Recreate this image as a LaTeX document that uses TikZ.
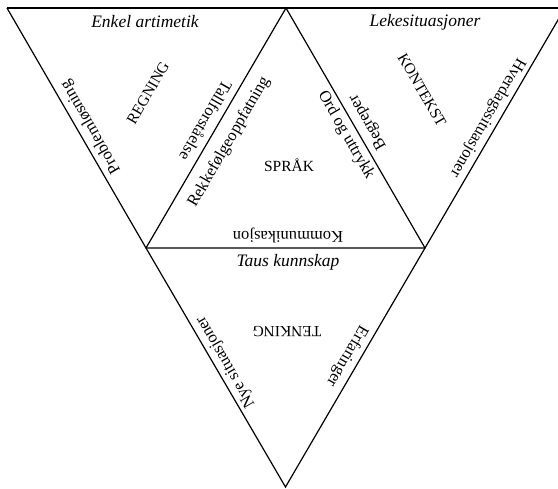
\documentclass[tikz,border=0pt]{standalone}
\usepackage{fontspec}
\setmainfont{Liberation Serif}
\begin{document}
\begin{tikzpicture}[x=1pt,y=-1pt,
  edge/.style={line width=1.2pt, line join=miter},
  lbl/.style={inner sep=0pt, font=\fontsize{16.5}{19}\selectfont},
  caplbl/.style={inner sep=0pt, font=\fontsize{15.5}{18}\selectfont},
  ilbl/.style={inner sep=0pt, font=\fontsize{17.5}{20}\selectfont\itshape}]
\useasboundingbox (0,0) rectangle (558,489);
\clip (0,0) rectangle (558,489);
\coordinate (P1) at (7,8);
\coordinate (P2) at (286,8);
\coordinate (P3) at (565,8);
\coordinate (Q1) at (146,248);
\coordinate (Q2) at (425,248);
\coordinate (R) at (285.5,487);
% edges
\draw[edge] (P1) -- (P3);
\draw[edge] (P1) -- (Q1) -- (Q2) -- (P3);
\draw[edge] (Q1) -- (P2) -- (Q2);
\draw[edge] (Q1) -- (R) -- (Q2);
% left triangle
\node[ilbl] (enkel) at (145,22) {Enkel artimetik};
\node[caplbl, rotate=60] (regning) at (148,93) {REGNING};
\node[lbl, rotate=120] (problem) at (91,127) {Problemløsning};
\node[lbl, rotate=-120] (tall) at (206,121) {Tallforståelse};
% middle triangle
\node[lbl, rotate=60] (rekke) at (229,142) {Rekkefølgeoppfatning};
\node[caplbl] (sprak) at (289,165) {SPRÅK};
\node[lbl, rotate=180] (komm) at (288,235) {Kommunikasjon};
\node[lbl, rotate=-60] (ord) at (346,135) {Ord og uttrykk};
% right triangle
\node[lbl, rotate=120] (begreper) at (368,122) {Begreper};
\node[ilbl] (leke) at (425,22) {Lekesituasjoner};
\node[caplbl, rotate=-60] (kontekst) at (422,90) {KONTEKST};
\node[lbl, rotate=-120] (hverdag) at (487.5,117.5) {Hverdagssituasjoner};
% bottom triangle
\node[ilbl] (taus) at (288,262) {Taus kunnskap};
\node[caplbl, rotate=180] (tenking) at (287,332) {TENKING};
\node[lbl, rotate=120] (nye) at (226,362) {Nye situasjoner};
\node[lbl, rotate=-120] (erfar) at (347,356) {Erfaringer};
\end{tikzpicture}
\end{document}
